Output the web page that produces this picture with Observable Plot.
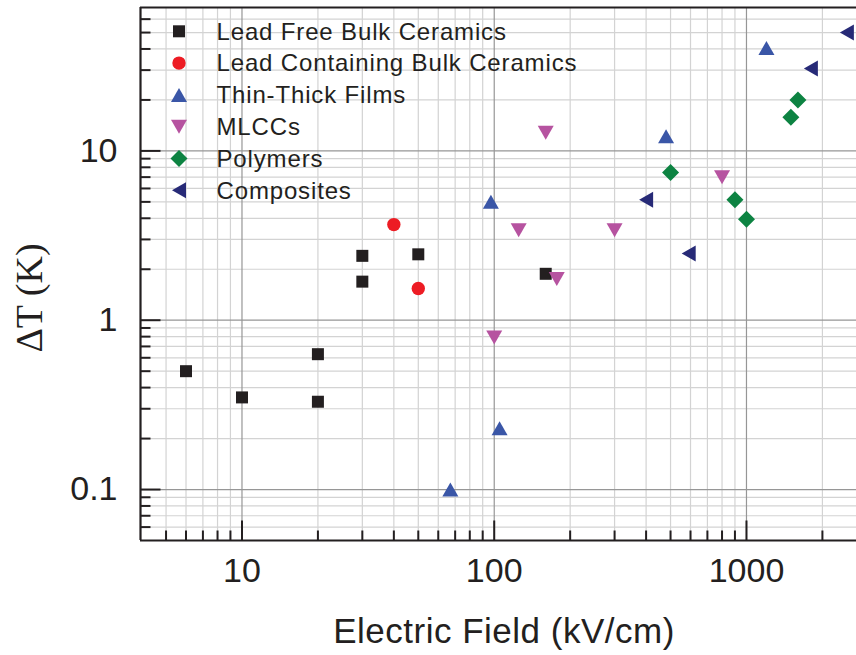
<!DOCTYPE html>
<html><head><meta charset="utf-8">
<script src="https://cdn.jsdelivr.net/npm/d3@7"></script>
<script src="https://cdn.jsdelivr.net/npm/@observablehq/plot@0.6"></script>
<style>
html,body{margin:0;padding:0;background:#fff;}
#chart{position:relative;width:856px;height:655px;overflow:hidden;}
</style></head><body><div id="chart"></div>
<script>
// ---- data ----
const seriesNames = ["Lead Free Bulk Ceramics","Lead Containing Bulk Ceramics","Thin-Thick Films","MLCCs","Polymers","Composites"];
const seriesColors = ["#231f20","#ed1c24","#3a56a7","#b653a0","#0d8342","#272a77"];
const leadFreeX = [6, 10, 20, 20, 30, 30, 50, 160];
const leadFreeY = [0.5, 0.35, 0.63, 0.33, 2.4, 1.69, 2.45, 1.88];
const leadContX = [40, 50];
const leadContY = [3.67, 1.54];
const filmsX = [67, 97, 105, 480, 1200];
const filmsY = [0.1, 5.0, 0.23, 12.2, 40.5];
const mlccX = [100, 125, 160, 177, 300, 800];
const mlccY = [0.79, 3.4, 12.8, 1.75, 3.4, 7.0];
const polyX = [500, 900, 1000, 1500, 1600];
const polyY = [7.45, 5.15, 3.95, 15.8, 20];
const compX = [400, 590, 1800, 2500];
const compY = [5.15, 2.48, 30.7, 50];

const xMajor = [10, 100, 1000];
const xTickLabels = ["10", "100", "1000"];
const xMinor = [5,6,7,8,9,20,30,40,50,60,70,80,90,200,300,400,500,600,700,800,900,2000];
const yMajor = [0.1, 1, 10];
const yTickLabels = ["0.1", "1", "10"];
const yMinor = [0.06,0.07,0.08,0.09,0.2,0.3,0.4,0.5,0.6,0.7,0.8,0.9,2,3,4,5,6,7,8,9,20,30,40,50,60];
const xDomain = [3.96, 2730];
const yDomain = [0.05, 70.3];
const xTitle = "Electric Field (kV/cm)";
const yTitle = "ΔT (K)";

// ---- symbols (shape styling) ----
const poly = (pts) => ({draw(ctx){ ctx.moveTo(pts[0][0], pts[0][1]); for (let i = 1; i < pts.length; i++) ctx.lineTo(pts[i][0], pts[i][1]); ctx.closePath(); }});
const symbols = [
  poly([[-6,-6],[6,-6],[6,6],[-6,6]]),
  {draw(ctx){ ctx.moveTo(6.7,0); ctx.arc(0,0,6.7,0,2*Math.PI); ctx.closePath(); }},
  poly([[0,-7],[8,7],[-8,7]]),
  poly([[-8,-7],[8,-7],[0,7]]),
  poly([[0,-8.5],[8.5,0],[0,8.5],[-8.5,0]]),
  poly([[-7,0],[7,-8],[7,8]])
];
const tickUp = (L) => ({draw(ctx){ ctx.moveTo(0,0); ctx.lineTo(0,-L); }});
const tickRight = (L) => ({draw(ctx){ ctx.moveTo(0,0); ctx.lineTo(L,0); }});

const seriesXs = [leadFreeX, leadContX, filmsX, mlccX, polyX, compX];
const seriesYs = [leadFreeY, leadContY, filmsY, mlccY, polyY, compY];
const tables = seriesXs.map((xs, s) => xs.map((x, i) => ({x, y: seriesYs[s][i]})));

const dark = "#231f20";
const svg = Plot.plot({
  width: 856, height: 655,
  marginLeft: 140, marginRight: 0, marginTop: 7, marginBottom: 115,
  style: {fontFamily: "'Liberation Sans', Arial, sans-serif", fontSize: "34px", background: "white", color: dark, overflow: "visible"},
  x: {type: "log", domain: xDomain, axis: null},
  y: {type: "log", domain: yDomain, axis: null},
  marks: [
    Plot.ruleX(xMinor, {stroke: "#d3d3d3", strokeWidth: 1.2}),
    Plot.ruleY(yMinor, {stroke: "#d3d3d3", strokeWidth: 1.2}),
    Plot.ruleX(xMajor, {stroke: "#969696", strokeWidth: 1.2}),
    Plot.ruleY(yMajor, {stroke: "#969696", strokeWidth: 1.2}),
    Plot.ruleX([xDomain[0]], {stroke: dark, strokeWidth: 2.2}),
    Plot.ruleY([yDomain[0]], {stroke: dark, strokeWidth: 2.2}),
    Plot.ruleY([yDomain[1]], {stroke: dark, strokeWidth: 2.2}),
    Plot.dot(xMajor, {x: d => d, frameAnchor: "bottom", symbol: tickUp(20), fill: "none", stroke: dark, strokeWidth: 2}),
    Plot.dot(xMinor, {x: d => d, frameAnchor: "bottom", symbol: tickUp(10), fill: "none", stroke: dark, strokeWidth: 2}),
    Plot.dot(yMajor, {y: d => d, frameAnchor: "left", symbol: tickRight(20), fill: "none", stroke: dark, strokeWidth: 2}),
    Plot.dot(yMinor, {y: d => d, frameAnchor: "left", symbol: tickRight(10), fill: "none", stroke: dark, strokeWidth: 2}),
    Plot.text(xMajor, {x: d => d, frameAnchor: "bottom", dy: 41, text: (d, i) => xTickLabels[i], fontSize: 34, fill: dark}),
    Plot.text(yMajor, {y: d => d, frameAnchor: "left", dx: -23, textAnchor: "end", text: (d, i) => yTickLabels[i], fontSize: 34, fill: dark}),
    ...tables.map((t, s) => Plot.dot(t, {x: "x", y: "y", symbol: symbols[s], r: 5, fill: seriesColors[s], stroke: "none"}))
  ]
});
document.getElementById("chart").appendChild(svg);

const g = d3.select(svg);
g.append("text").attr("x", 504).attr("y", 643).attr("text-anchor", "middle")
  .style("font-family", "'Liberation Sans', Arial, sans-serif").style("font-size", "35px").style("letter-spacing", "0.5px")
  .attr("fill", dark).text(xTitle);
g.append("text").attr("transform", "translate(42,298) rotate(-90)").attr("text-anchor", "middle")
  .style("font-family", "'Liberation Serif', 'Times New Roman', serif").style("font-size", "38px")
  .attr("fill", dark).text(yTitle);

const leg = g.append("g").attr("text-anchor", "start");
seriesNames.forEach((name, i) => {
  const cy = 31.3 + i * 31.8;
  leg.append("path").attr("transform", `translate(179,${cy})`)
    .attr("d", d3.symbol().type(symbols[i]).size(64)()).attr("fill", seriesColors[i]);
  leg.append("text").attr("x", 216.5).attr("y", cy + 8.3).attr("text-anchor", "start")
    .style("font-family", "'Liberation Sans', Arial, sans-serif").style("font-size", "24px").style("letter-spacing", "0.85px")
    .attr("fill", dark).text(name);
});
</script></body></html>
